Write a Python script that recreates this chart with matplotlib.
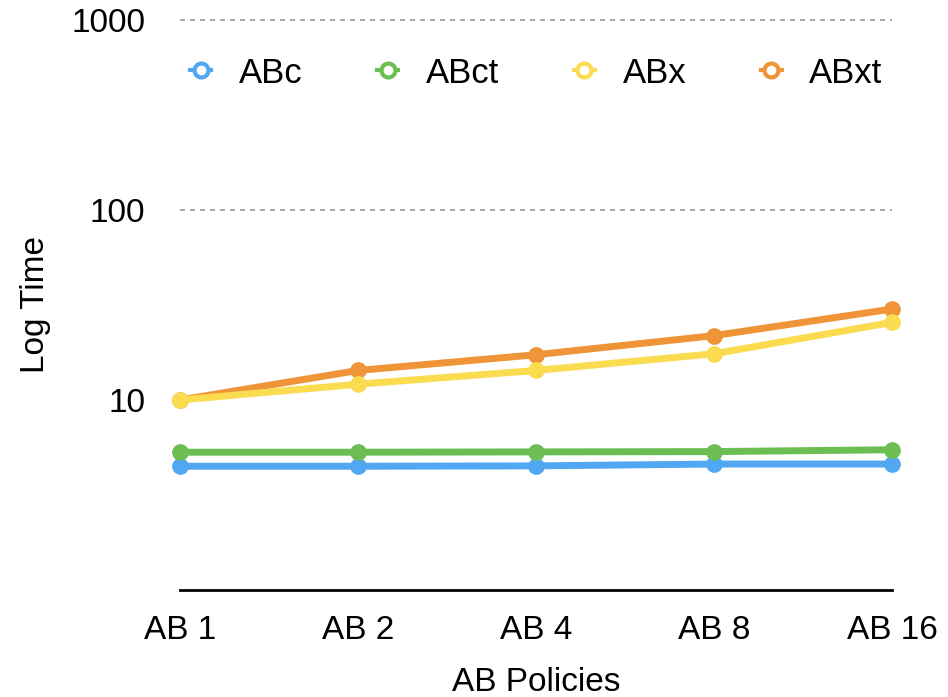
import numpy as np
import matplotlib.pyplot as plt
from matplotlib.lines import Line2D

plt.rcParams['font.family'] = ['Liberation Sans', 'DejaVu Sans']

# Policy categories and timings (log scale)
policies = ["AB 1", "AB 2", "AB 4", "AB 8", "AB 16"]
abc = [4.48, 4.48, 4.5, 4.6, 4.6]
abct = [5.31, 5.31, 5.33, 5.35, 5.47]
abx = [10.0, 12.1, 14.3, 17.5, 25.6]
abxt = [10.0, 14.3, 17.3, 21.8, 30.1]

series_names = ["ABc", "ABct", "ABx", "ABxt"]
series_colors = ["#52A7F2", "#6CBD52", "#FBDB4F", "#EF9537"]
series_z = [3, 4, 6, 5]

fig = plt.figure(figsize=(9.48, 6.97), dpi=100)
ax = fig.add_axes([0.19, 0.1535, 0.751, 0.818])

x = np.arange(len(policies))
for vals, name, color, z in zip([abc, abct, abx, abxt], series_names, series_colors, series_z):
    ax.plot(x, vals, color=color, lw=5, marker='o', ms=11, mec=color, mfc=color,
            label=name, zorder=z, clip_on=False, solid_capstyle='round')

ax.set_yscale('log')
ax.set_ylim(1, 1000)
ax.set_xlim(0, 4)

# dashed guides at the upper decades only
for level in [100, 1000]:
    ax.axhline(level, color='#999999', lw=1.2, ls=(0, (3, 3)), zorder=1, clip_on=False)

ax.set_yticks([10, 100, 1000])
ax.set_yticklabels(["10", "100", "1000"])
ax.yaxis.set_minor_locator(plt.NullLocator())
ax.set_xticks(x)
ax.set_xticklabels(policies)
ax.tick_params(axis='both', length=0, labelsize=24)
ax.tick_params(axis='y', pad=25)
ax.tick_params(axis='x', pad=18)

for side in ['top', 'right', 'left']:
    ax.spines[side].set_visible(False)
ax.spines['bottom'].set_linewidth(2)
ax.spines['bottom'].set_color('black')

ax.set_ylabel("Log Time", fontsize=24, labelpad=14.5)
ax.set_xlabel("AB Policies", fontsize=24, labelpad=15)

handles = [Line2D([0], [0], color=c, lw=3, marker='o', ms=10, mfc='white', mec=c, mew=3)
           for c in series_colors]
ax.legend(handles, series_names, loc='upper left', ncol=4, frameon=False, fontsize=25,
          handlelength=0.6, handletextpad=0.8, columnspacing=2.15, borderaxespad=0,
          bbox_to_anchor=(-0.005, 0.96))

fig.savefig("out.png", dpi=100)
